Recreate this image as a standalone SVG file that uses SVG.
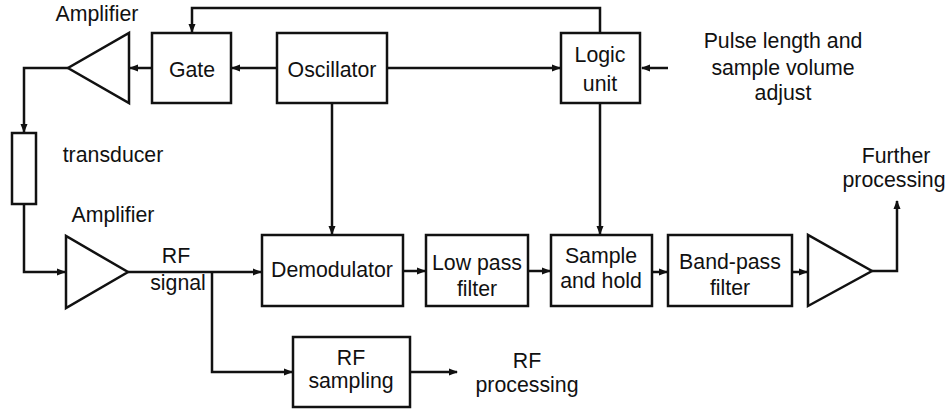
<svg xmlns="http://www.w3.org/2000/svg" width="951" height="410" viewBox="0 0 951 410">
<defs>
<marker id="ah" markerWidth="9" markerHeight="8" refX="8" refY="4" orient="auto" markerUnits="userSpaceOnUse">
<path d="M0,0.5 L9,4 L0,7.5 Z" fill="#111"/>
</marker>
<style>
.box{fill:#fff;stroke:#111;stroke-width:2.5}
.ln{fill:none;stroke:#111;stroke-width:2.5}
.t{font-family:"Liberation Sans",Arial,sans-serif;font-size:21.3px;fill:#111;text-anchor:middle}
</style>
</defs>
<rect width="951" height="410" fill="#fff"/>
<g id="connectors">
<path class="ln" d="M600,33 V8 H192 V32" marker-end="url(#ah)"/>
<path class="ln" d="M277,68 H232" marker-end="url(#ah)"/>
<path class="ln" d="M152,68 H130" marker-end="url(#ah)"/>
<path class="ln" d="M68,68 H24 V132" marker-end="url(#ah)"/>
<path class="ln" d="M387,68 H560" marker-end="url(#ah)"/>
<path class="ln" d="M668,68 H642" marker-end="url(#ah)"/>
<path class="ln" d="M24,204 V272 H65" marker-end="url(#ah)"/>
<path class="ln" d="M128,272 H261" marker-end="url(#ah)"/>
<path class="ln" d="M332,103 V234" marker-end="url(#ah)"/>
<path class="ln" d="M600,103 V234" marker-end="url(#ah)"/>
<path class="ln" d="M403,271 H425" marker-end="url(#ah)"/>
<path class="ln" d="M528,271 H550" marker-end="url(#ah)"/>
<path class="ln" d="M652,272 H667" marker-end="url(#ah)"/>
<path class="ln" d="M792,272 H807" marker-end="url(#ah)"/>
<path class="ln" d="M872,271 H897 V201" marker-end="url(#ah)"/>
<path class="ln" d="M212,272 V372 H292" marker-end="url(#ah)"/>
<path class="ln" d="M410,372 H457" marker-end="url(#ah)"/>
</g>
<g id="amp-top">
<polygon class="box" points="129,33 129,103 68,68"/>
<text class="t" x="97" y="21">Amplifier</text>
</g>
<g id="gate">
<rect class="box" x="152" y="33" width="79" height="70"/>
<text class="t" x="192" y="77">Gate</text>
</g>
<g id="oscillator">
<rect class="box" x="277" y="33" width="110" height="70"/>
<text class="t" x="332" y="77">Oscillator</text>
</g>
<g id="logic">
<rect class="box" x="561" y="33" width="79" height="70"/>
<text class="t" x="600" y="62">Logic</text>
<text class="t" x="600" y="91">unit</text>
</g>
<g id="pulse-label">
<text class="t" x="783" y="48">Pulse length and</text>
<text class="t" x="783" y="75">sample volume</text>
<text class="t" x="783" y="100">adjust</text>
</g>
<g id="transducer">
<rect class="box" x="12" y="133" width="24" height="71"/>
<text class="t" x="113" y="162">transducer</text>
</g>
<g id="amp-bottom">
<polygon class="box" points="66,236 66,308 128,272"/>
<text class="t" x="113" y="222">Amplifier</text>
</g>
<g id="rf-signal">
<text class="t" x="176" y="263">RF</text>
<text class="t" x="178" y="290">signal</text>
</g>
<g id="demodulator">
<rect class="box" x="262" y="235" width="141" height="71"/>
<text class="t" x="332" y="277">Demodulator</text>
</g>
<g id="lowpass">
<rect class="box" x="426" y="235" width="102" height="71"/>
<text class="t" x="477" y="270">Low pass</text>
<text class="t" x="477" y="296">filter</text>
</g>
<g id="samplehold">
<rect class="box" x="551" y="235" width="101" height="71"/>
<text class="t" x="601" y="263">Sample</text>
<text class="t" x="601" y="288">and hold</text>
</g>
<g id="bandpass">
<rect class="box" x="668" y="235" width="124" height="71"/>
<text class="t" x="730" y="269">Band-pass</text>
<text class="t" x="730" y="295">filter</text>
</g>
<g id="amp-out">
<polygon class="box" points="808,235 808,306 872,271"/>
</g>
<g id="further">
<text class="t" x="896" y="163">Further</text>
<text class="t" x="894" y="187">processing</text>
</g>
<g id="rfsampling">
<rect class="box" x="293" y="337" width="117" height="70"/>
<text class="t" x="351" y="365">RF</text>
<text class="t" x="351" y="388">sampling</text>
</g>
<g id="rfprocessing">
<text class="t" x="527" y="368">RF</text>
<text class="t" x="527" y="392">processing</text>
</g>
</svg>
